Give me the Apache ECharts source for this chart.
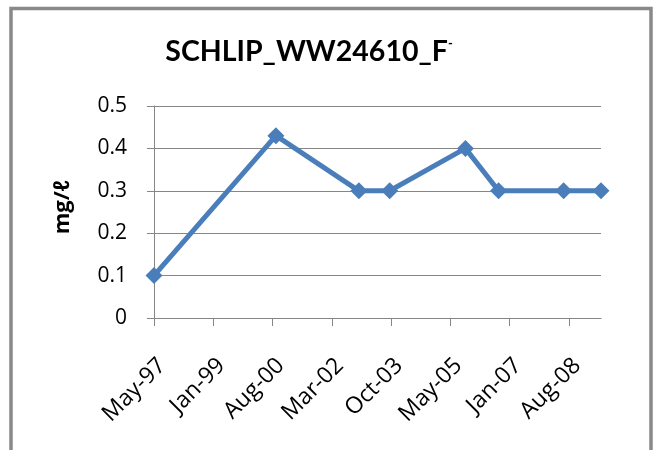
<!DOCTYPE html>
<html>
<head>
<meta charset="utf-8">
<style>
  html, body { margin: 0; padding: 0; background: #fff; }
  #chart { width: 653px; height: 450px; }
</style>
<script src="https://cdn.jsdelivr.net/npm/echarts@6/dist/echarts.min.js"></script>
</head>
<body>
<div id="chart"></div>
<script>
// Sampling dates and fluoride concentrations (mg/ℓ)
const sampleDates = ['1997-05-28', '2000-09-12', '2002-12-10', '2003-10-10',
                     '2005-10-26', '2006-09-18', '2008-06-21', '2009-06-25'];
const fluoride = [0.1, 0.43, 0.3, 0.3, 0.4, 0.3, 0.3, 0.3];

// Date-axis ticks: first tick on the first sample, then every 585 days
const tickStartDate = '1997-05-28';
const tickStepDays = 585;
const tickCount = 8;

// Value axis ticks
const yTicks = [0, 0.1, 0.2, 0.3, 0.4, 0.5];

const MONTHS = ['Jan','Feb','Mar','Apr','May','Jun','Jul','Aug','Sep','Oct','Nov','Dec'];
const DAY = 86400000;
const toDay = s => { const [y, m, d] = s.split('-').map(Number); return Date.UTC(y, m - 1, d) / DAY; };
const fmtDay = v => {
  const d = new Date(Math.round(v) * DAY);
  return MONTHS[d.getUTCMonth()] + '-' + String(d.getUTCFullYear() % 100).padStart(2, '0');
};

const xs = sampleDates.map(toDay);
const tickDays = [];
for (let k = 0; k < tickCount; k++) tickDays.push(toDay(tickStartDate) + k * tickStepDays);

const TITLE_FONT = 'Lato, "Open Sans", sans-serif';
const FONT = '"Open Sans", Lato, sans-serif';
const GRAY = '#868686';
const BLUE = '#4A7EBB';

const chart = echarts.init(document.getElementById('chart'), null, { renderer: 'canvas' });
chart.setOption({
  animation: false,
  backgroundColor: '#fff',
  title: {
    text: 'SCHLIP_WW24610_F{sup|-}',
    left: 304,
    textAlign: 'center',
    top: 32,
    textStyle: {
      fontFamily: TITLE_FONT, fontWeight: 'bold', fontSize: 28.5, color: '#000',
      rich: { sup: { fontFamily: TITLE_FONT, fontWeight: 'bold', fontSize: 13, verticalAlign: 'top', color: '#000' } }
    }
  },
  grid: { left: 154, top: 106, width: 447, height: 212, containLabel: false },
  xAxis: {
    type: 'value',
    min: xs[0],
    max: xs[xs.length - 1],
    splitLine: { show: false },
    axisLine: { show: true, lineStyle: { color: GRAY, width: 1 } },
    axisTick: { show: true, length: 8, customValues: tickDays, lineStyle: { color: GRAY } },
    axisLabel: {
      customValues: tickDays,
      formatter: fmtDay,
      rotate: 45,
      align: 'right',
      verticalAlign: 'top',
      margin: 36,
      fontFamily: FONT, fontSize: 23, color: '#000'
    }
  },
  yAxis: {
    type: 'value',
    min: yTicks[0],
    max: yTicks[yTicks.length - 1],
    interval: 0.1,
    name: 'mg/ℓ',
    nameLocation: 'middle',
    nameRotate: 90,
    nameGap: 80,
    nameMoveOverlap: false,
    nameTextStyle: { fontFamily: 'Open Sans', fontWeight: 'bold', fontSize: 22, color: '#000', padding: [0, 0, 0, 10] },
    splitLine: { show: true, lineStyle: { color: GRAY, width: 1 } },
    axisLine: { show: true, lineStyle: { color: GRAY, width: 1 } },
    axisTick: { show: true, length: 7, lineStyle: { color: GRAY } },
    axisLabel: { margin: 27, fontFamily: FONT, fontSize: 21, color: '#000' }
  },
  series: [{
    type: 'line',
    data: xs.map((x, i) => [x, fluoride[i]]),
    symbol: 'diamond',
    symbolSize: 17,
    lineStyle: { color: BLUE, width: 5 },
    itemStyle: { color: BLUE },
    clip: false
  }],
  graphic: [{
    type: 'rect',
    silent: true,
    shape: { x: 11, y: 8.5, width: 640, height: 500 },
    style: { fill: null, stroke: '#898989', lineWidth: 3.5 }
  }]
});
</script>
</body>
</html>
